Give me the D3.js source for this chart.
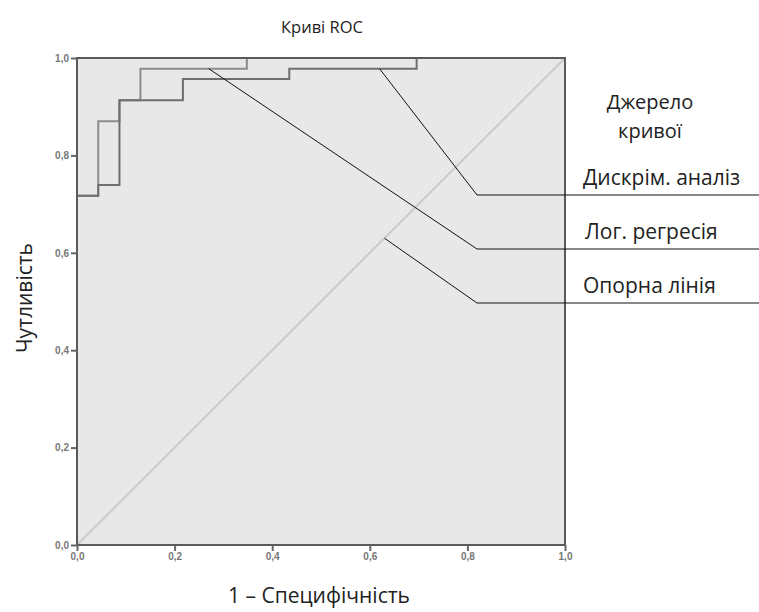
<!DOCTYPE html>
<html>
<head>
<meta charset="utf-8">
<script src="https://cdn.jsdelivr.net/npm/d3@7"></script>
<style>
body { margin: 0; background: #fff; }
text { font-family: "Open Sans", "Noto Sans", sans-serif; }
</style>
</head>
<body>
<div id="chart"></div>
<script>
// ROC data: (1 - specificity, sensitivity) step points
var discrimX = [0, 0, 0.0435, 0.0435, 0.087, 0.087, 0.217, 0.217, 0.435, 0.435, 0.696, 0.696, 1];
var discrimY = [0, 0.717, 0.717, 0.739, 0.739, 0.913, 0.913, 0.957, 0.957, 0.978, 0.978, 1, 1];
var logregX = [0, 0, 0.0435, 0.0435, 0.087, 0.087, 0.130, 0.130, 0.348, 0.348, 1];
var logregY = [0, 0.717, 0.717, 0.870, 0.870, 0.913, 0.913, 0.978, 0.978, 1, 1];
var refX = [0, 1];
var refY = [0, 1];
var ticks = [0, 0.2, 0.4, 0.6, 0.8, 1.0];
var legendLabels = ["Дискрім. аналіз", "Лог. регресія", "Опорна лінія"];

var width = 759, height = 612;
var margin = {top: 58, right: 194, bottom: 67, left: 77};
var w = width - margin.left - margin.right;
var h = height - margin.top - margin.bottom;

var xScale = d3.scaleLinear().domain([0, 1]).range([0, w]);
var yScale = d3.scaleLinear().domain([0, 1]).range([h, 0]);
var fmt = function(d) { return d3.format(".1f")(d).replace(".", ","); };

var svg = d3.select("#chart").append("svg")
  .attr("width", width)
  .attr("height", height);

var g = svg.append("g")
  .attr("transform", "translate(" + margin.left + "," + margin.top + ")");

g.append("rect")
  .attr("width", w).attr("height", h)
  .attr("fill", "#e8e8e8");

function pts(xs, ys) { return xs.map(function(x, i) { return [x, ys[i]]; }); }
var line = d3.line().x(function(d) { return xScale(d[0]); }).y(function(d) { return yScale(d[1]); });

g.append("path").datum(pts(refX, refY))
  .attr("d", line).attr("fill", "none")
  .attr("stroke", "#cacaca").attr("stroke-width", 2);

g.append("path").datum(pts(logregX, logregY))
  .attr("d", line).attr("fill", "none")
  .attr("stroke", "#8c8c8c").attr("stroke-width", 2);

g.append("path").datum(pts(discrimX, discrimY))
  .attr("d", line).attr("fill", "none")
  .attr("stroke", "#6e6e6e").attr("stroke-width", 2);

// frame
g.append("rect")
  .attr("width", w).attr("height", h)
  .attr("fill", "none").attr("stroke", "#5a5a5a").attr("stroke-width", 2);

var xaxis = d3.axisBottom(xScale).tickValues(ticks).tickFormat(fmt).tickSize(6).tickPadding(2);
var yaxis = d3.axisLeft(yScale).tickValues(ticks).tickFormat(fmt).tickSize(6).tickPadding(2);

g.append("g").attr("class", "x axis")
  .attr("transform", "translate(0," + h + ")")
  .call(xaxis);
g.append("g").attr("class", "y axis").call(yaxis);

g.selectAll(".axis .domain").remove();
g.selectAll(".axis line").attr("stroke", "#666").attr("stroke-width", 2);
g.selectAll(".axis text")
  .attr("fill", "#777").style("font-size", "10px").style("font-weight", "bold")
  .style("font-family", "Arial, 'Liberation Sans', sans-serif");

// titles
svg.append("text")
  .attr("x", 322).attr("y", 33)
  .attr("text-anchor", "middle")
  .style("font-size", "16.5px").attr("fill", "#222")
  .text("Криві ROC");

svg.append("text")
  .attr("transform", "translate(32," + 298 + ") rotate(-90)")
  .attr("text-anchor", "middle")
  .style("font-size", "21px").attr("fill", "#222")
  .text("Чутливість");

svg.append("text")
  .attr("x", 319).attr("y", 603)
  .attr("text-anchor", "middle")
  .style("font-size", "21px").attr("fill", "#222")
  .text("1 – Специфічність");

// legend
svg.append("text")
  .attr("x", 650).attr("y", 109)
  .attr("text-anchor", "middle")
  .style("font-size", "20px").attr("fill", "#222")
  .text("Джерело");
svg.append("text")
  .attr("x", 650).attr("y", 138)
  .attr("text-anchor", "middle")
  .style("font-size", "20px").attr("fill", "#222")
  .text("кривої");

var legendY = [195, 249, 303];
var labelY = [185, 239, 293];
var labelX = [583, 585, 583];
// leader line anchor points on the curves, in data units
var anchorX = [0.62, 0.27, 0.63];
var anchorY = [0.978, 0.978, 0.63];

legendLabels.forEach(function(lab, i) {
  svg.append("text")
    .attr("x", labelX[i]).attr("y", labelY[i])
    .style("font-size", "21px").attr("fill", "#222")
    .text(lab);
  svg.append("line")
    .attr("x1", 477).attr("x2", width)
    .attr("y1", legendY[i]).attr("y2", legendY[i])
    .attr("stroke", "#111").attr("stroke-width", 1);
  svg.append("line")
    .attr("x1", 477).attr("y1", legendY[i])
    .attr("x2", margin.left + xScale(anchorX[i]))
    .attr("y2", margin.top + yScale(anchorY[i]))
    .attr("stroke", "#111").attr("stroke-width", 1);
});
</script>
</body>
</html>
